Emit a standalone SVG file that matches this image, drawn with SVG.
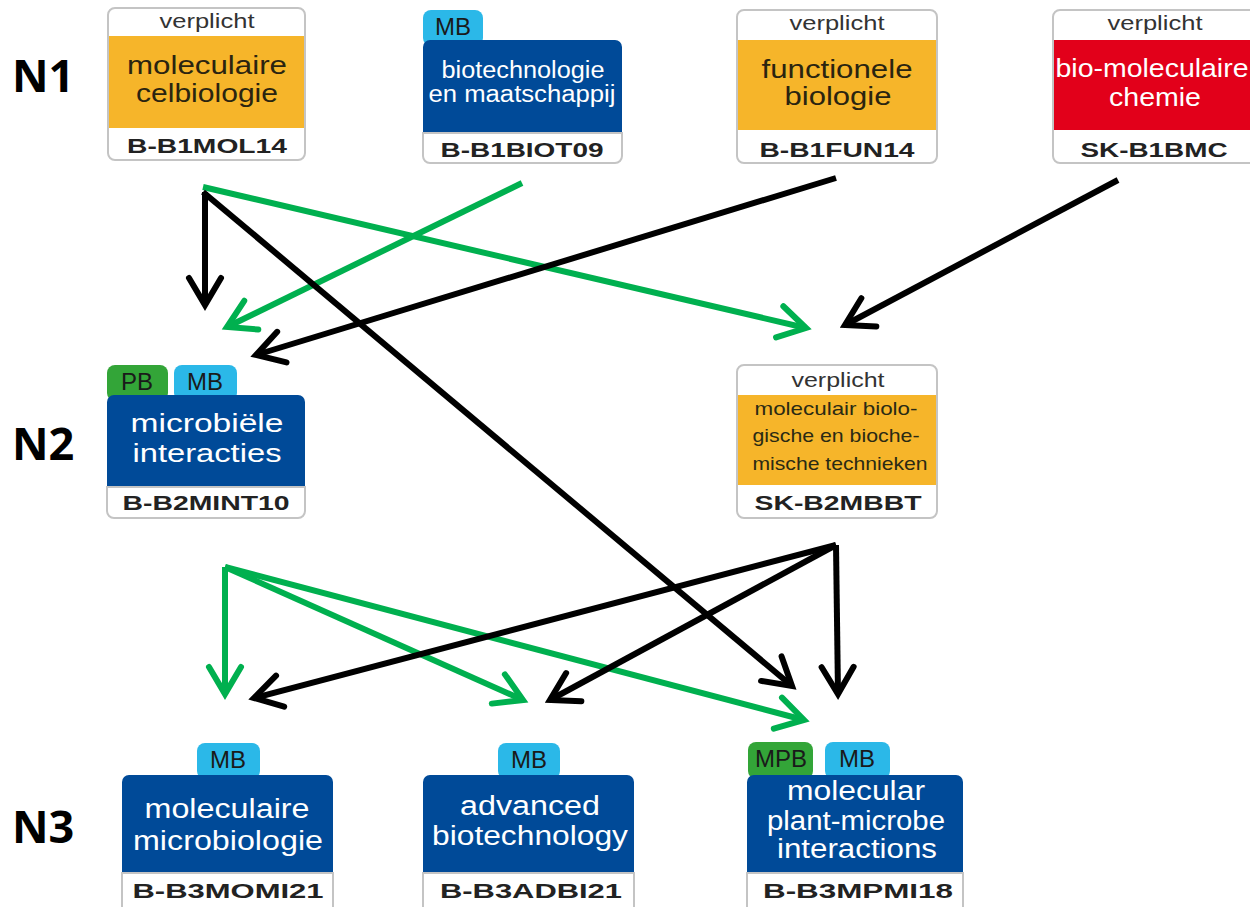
<svg xmlns="http://www.w3.org/2000/svg" width="1250" height="907" viewBox="0 0 1250 907">
  <style>
    .frame { fill: #ffffff; stroke: #c4c4c4; stroke-width: 2; }
    .orange { fill: #f6b52a; }
    .blue { fill: #004a98; }
    .red { fill: #e2001a; }
    .tagMB { fill: #2bb8e8; }
    .tagPB { fill: #33a538; }
    .lvl { font-family: "Open Sans", "Liberation Sans", sans-serif; font-weight: 700; font-size: 45px; fill: #000; }
    .hd { font-family: "Liberation Sans", Arial, sans-serif; font-size: 20px; fill: #333; text-anchor: middle; }
    .tt { font-family: "Liberation Sans", Arial, sans-serif; font-size: 26px; text-anchor: middle; }
    .tt2 { font-family: "Liberation Sans", Arial, sans-serif; font-size: 23px; text-anchor: middle; }
    .tt3 { font-family: "Liberation Sans", Arial, sans-serif; font-size: 27px; text-anchor: middle; fill: #fff; }
    .sm { font-family: "Liberation Sans", Arial, sans-serif; font-size: 19px; text-anchor: middle; fill: #2a2a14; }
    .dark { fill: #2a2410; }
    .light { fill: #ffffff; }
    .code { font-family: "Liberation Sans", Arial, sans-serif; font-weight: 700; font-size: 21px; fill: #222; text-anchor: middle; }
    .tag { font-family: "Liberation Sans", Arial, sans-serif; font-size: 24px; fill: #1a1a1a; text-anchor: middle; }
    .lk { fill: none; stroke: #000; stroke-width: 6; }
    .lg { fill: none; stroke: #00b04f; stroke-width: 6; }
  </style>
  <defs>
    <marker id="headK" markerUnits="userSpaceOnUse" markerWidth="60" markerHeight="60" viewBox="-40 -30 60 60" refX="0" refY="0" orient="auto" overflow="visible">
      <path d="M-27,-16 L0,0 L-27,16" fill="none" stroke="#000" stroke-width="6" stroke-linecap="round"/>
    </marker>
    <marker id="headG" markerUnits="userSpaceOnUse" markerWidth="60" markerHeight="60" viewBox="-40 -30 60 60" refX="0" refY="0" orient="auto" overflow="visible">
      <path d="M-27,-16 L0,0 L-27,16" fill="none" stroke="#00b04f" stroke-width="6" stroke-linecap="round"/>
    </marker>
  </defs>

  <rect width="1250" height="907" fill="#ffffff"/>

  <!-- level labels -->
  <g id="levels">
    <text class="lvl" x="12" y="92">N1</text>
    <text class="lvl" x="12" y="460">N2</text>
    <text class="lvl" x="12" y="843">N3</text>
  </g>

  <!-- N1 -->
  <g id="B-B1MOL14">
    <rect class="frame" x="108" y="8" width="197" height="152" rx="7"/>
    <rect class="orange" x="109" y="36" width="195" height="92"/>
    <text class="hd" x="207" y="28" textLength="95" lengthAdjust="spacingAndGlyphs">verplicht</text>
    <text class="tt dark" x="207" y="74" textLength="160" lengthAdjust="spacingAndGlyphs">moleculaire</text>
    <text class="tt dark" x="207" y="102" textLength="142" lengthAdjust="spacingAndGlyphs">celbiologie</text>
    <text class="code" x="207" y="153" textLength="160" lengthAdjust="spacingAndGlyphs">B-B1MOL14</text>
  </g>

  <g id="B-B1BIOT09">
    <rect class="tagMB" x="423" y="10" width="60" height="36" rx="8"/>
    <text class="tag" x="453" y="35">MB</text>
    <path class="blue" d="M423,47 a7,7 0 0 1 7,-7 h185 a7,7 0 0 1 7,7 V133 H423 Z"/>
    <path class="frame" d="M423,133 H622 V156 a7,7 0 0 1 -7,7 H430 a7,7 0 0 1 -7,-7 Z"/>
    <text class="tt2 light" x="523" y="78" textLength="163" lengthAdjust="spacingAndGlyphs">biotechnologie</text>
    <text class="tt2 light" x="522" y="102" textLength="187" lengthAdjust="spacingAndGlyphs">en maatschappij</text>
    <text class="code" x="522" y="157" textLength="163" lengthAdjust="spacingAndGlyphs">B-B1BIOT09</text>
  </g>

  <g id="B-B1FUN14">
    <rect class="frame" x="737" y="10" width="200" height="153" rx="7"/>
    <rect class="orange" x="738" y="40" width="198" height="90"/>
    <text class="hd" x="837" y="30" textLength="95" lengthAdjust="spacingAndGlyphs">verplicht</text>
    <text class="tt dark" x="837" y="78" textLength="151" lengthAdjust="spacingAndGlyphs">functionele</text>
    <text class="tt dark" x="838" y="105" textLength="107" lengthAdjust="spacingAndGlyphs">biologie</text>
    <text class="code" x="837" y="157" textLength="155" lengthAdjust="spacingAndGlyphs">B-B1FUN14</text>
  </g>

  <g id="SK-B1BMC">
    <rect class="frame" x="1053" y="10" width="205" height="153" rx="7"/>
    <rect class="red" x="1054" y="40" width="203" height="90"/>
    <text class="hd" x="1155" y="30" textLength="95" lengthAdjust="spacingAndGlyphs">verplicht</text>
    <text class="tt light" x="1152" y="77" textLength="193" lengthAdjust="spacingAndGlyphs">bio-moleculaire</text>
    <text class="tt light" x="1155" y="106" textLength="92" lengthAdjust="spacingAndGlyphs">chemie</text>
    <text class="code" x="1154" y="157" textLength="147" lengthAdjust="spacingAndGlyphs">SK-B1BMC</text>
  </g>

  <!-- N2 -->
  <g id="B-B2MINT10">
    <rect class="tagPB" x="107" y="365" width="61" height="36" rx="8"/>
    <text class="tag" x="137" y="390">PB</text>
    <rect class="tagMB" x="174" y="365" width="63" height="36" rx="8"/>
    <text class="tag" x="205" y="390">MB</text>
    <path class="blue" d="M107,402 a7,7 0 0 1 7,-7 h184 a7,7 0 0 1 7,7 V487 H107 Z"/>
    <path class="frame" d="M107,487 H305 V511 a7,7 0 0 1 -7,7 H114 a7,7 0 0 1 -7,-7 Z"/>
    <text class="tt light" x="207" y="432" textLength="153" lengthAdjust="spacingAndGlyphs">microbiële</text>
    <text class="tt light" x="207" y="462" textLength="149" lengthAdjust="spacingAndGlyphs">interacties</text>
    <text class="code" x="206" y="510" textLength="167" lengthAdjust="spacingAndGlyphs">B-B2MINT10</text>
  </g>

  <g id="SK-B2MBBT">
    <rect class="frame" x="737" y="365" width="200" height="153" rx="7"/>
    <rect class="orange" x="738" y="395" width="198" height="90"/>
    <text class="hd" x="838" y="387" textLength="93" lengthAdjust="spacingAndGlyphs">verplicht</text>
    <text class="sm" x="836" y="415" textLength="163" lengthAdjust="spacingAndGlyphs">moleculair biolo-</text>
    <text class="sm" x="836" y="442" textLength="167" lengthAdjust="spacingAndGlyphs">gische en bioche-</text>
    <text class="sm" x="840" y="470" textLength="175" lengthAdjust="spacingAndGlyphs">mische technieken</text>
    <text class="code" x="838" y="510" textLength="167" lengthAdjust="spacingAndGlyphs">SK-B2MBBT</text>
  </g>

  <!-- N3 -->
  <g id="B-B3MOMI21">
    <rect class="tagMB" x="197" y="743" width="63" height="36" rx="8"/>
    <text class="tag" x="228" y="768">MB</text>
    <path class="blue" d="M122,782 a7,7 0 0 1 7,-7 h197 a7,7 0 0 1 7,7 V873 H122 Z"/>
    <path class="frame" d="M122,873 H333 V912 H122 Z"/>
    <text class="tt3" x="227" y="818" textLength="165" lengthAdjust="spacingAndGlyphs">moleculaire</text>
    <text class="tt3" x="228" y="850" textLength="190" lengthAdjust="spacingAndGlyphs">microbiologie</text>
    <text class="code" x="228" y="898" textLength="191" lengthAdjust="spacingAndGlyphs">B-B3MOMI21</text>
  </g>

  <g id="B-B3ADBI21">
    <rect class="tagMB" x="498" y="743" width="62" height="36" rx="8"/>
    <text class="tag" x="529" y="768">MB</text>
    <path class="blue" d="M423,782 a7,7 0 0 1 7,-7 h197 a7,7 0 0 1 7,7 V873 H423 Z"/>
    <path class="frame" d="M423,873 H634 V912 H423 Z"/>
    <text class="tt3" x="530" y="815" textLength="140" lengthAdjust="spacingAndGlyphs">advanced</text>
    <text class="tt3" x="530" y="845" textLength="196" lengthAdjust="spacingAndGlyphs">biotechnology</text>
    <text class="code" x="531" y="898" textLength="182" lengthAdjust="spacingAndGlyphs">B-B3ADBI21</text>
  </g>

  <g id="B-B3MPMI18">
    <rect class="tagPB" x="748" y="742" width="65" height="37" rx="8"/>
    <text class="tag" x="781" y="767">MPB</text>
    <rect class="tagMB" x="825" y="742" width="65" height="37" rx="8"/>
    <text class="tag" x="857" y="767">MB</text>
    <path class="blue" d="M747,782 a7,7 0 0 1 7,-7 h202 a7,7 0 0 1 7,7 V873 H747 Z"/>
    <path class="frame" d="M747,873 H963 V912 H747 Z"/>
    <text class="tt3" x="856" y="800" textLength="138" lengthAdjust="spacingAndGlyphs">molecular</text>
    <text class="tt3" x="856" y="830" textLength="178" lengthAdjust="spacingAndGlyphs">plant-microbe</text>
    <text class="tt3" x="857" y="858" textLength="160" lengthAdjust="spacingAndGlyphs">interactions</text>
    <text class="code" x="858" y="898" textLength="190" lengthAdjust="spacingAndGlyphs">B-B3MPMI18</text>
  </g>

  <!-- prerequisite connectors -->
  <g id="connectors">
    <line class="lg" x1="203" y1="187" x2="806" y2="328" marker-end="url(#headG)"/>
    <line class="lg" x1="522" y1="183" x2="227" y2="327" marker-end="url(#headG)"/>
    <line class="lk" x1="205" y1="192" x2="205" y2="305" marker-end="url(#headK)"/>
    <line class="lk" x1="203" y1="192" x2="792" y2="686" marker-end="url(#headK)"/>
    <line class="lk" x1="836" y1="178" x2="256" y2="355" marker-end="url(#headK)"/>
    <line class="lk" x1="1118" y1="180" x2="845" y2="325" marker-end="url(#headK)"/>
    <line class="lg" x1="225" y1="567" x2="225" y2="694" marker-end="url(#headG)"/>
    <line class="lg" x1="225" y1="567" x2="523" y2="700" marker-end="url(#headG)"/>
    <line class="lg" x1="225" y1="567" x2="804" y2="720" marker-end="url(#headG)"/>
    <line class="lk" x1="836" y1="545" x2="254" y2="698" marker-end="url(#headK)"/>
    <line class="lk" x1="836" y1="545" x2="550" y2="700" marker-end="url(#headK)"/>
    <line class="lk" x1="836" y1="545" x2="838" y2="694" marker-end="url(#headK)"/>
  </g>
</svg>
